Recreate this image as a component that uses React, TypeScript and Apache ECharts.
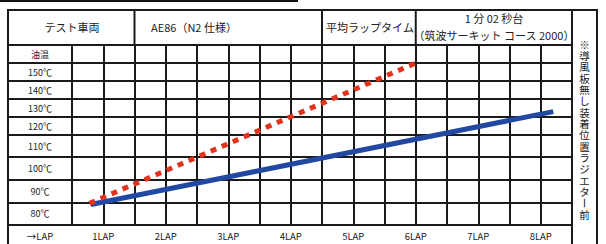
import { useEffect, useRef } from 'react';
import * as echarts from 'echarts';

// ---- data ----
const rowLabels = ['油温', '150℃', '140℃', '130℃', '120℃', '110℃', '100℃', '90℃', '80℃'];
const rowTemps = [160, 150, 140, 130, 120, 110, 100, 90, 80];
const lapLabel = '→LAP';
const blueLaps = [0.8, 8.2];
const blueTemps = [84, 128];
const redLaps = [0.78, 6.0];
const redTemps = [84.5, 155];
const headerTexts = ['テスト車両', 'AE86（N2 仕様）', '平均ラップタイム', '1 分 02 秒台', '（筑波サーキット コース 2000）'];
const noteText = '※導風板無し装着位置ラジエター前';

// ---- layout ----
const ROW_H = [18, 18, 18, 18, 18, 22, 22.7, 22.6, 22];
const edges: number[] = ROW_H.reduce((a: number[], h) => { a.push(a[a.length - 1] + h); return a; }, [0]);
const TOTAL = edges[edges.length - 1];
const centers = ROW_H.map((h, i) => edges[i] + h / 2);
const FONT = '"Noto Sans CJK JP", "Noto Sans", sans-serif';
const INK = '#1a1a1a';
const TXT = '#222';
const NOTE_STEP = 11.36;

// temperature -> position inside the (non-uniform) row table
function pos(t: number) {
  let i = rowTemps.findIndex((rt) => t >= rt - 5);
  if (i < 0) i = rowTemps.length - 1;
  return edges[i] + ((rowTemps[i] + 5 - t) / 10) * ROW_H[i];
}

function ln(x1: number, y1: number, x2: number, y2: number) {
  return { type: 'line', shape: { x1, y1, x2, y2 }, style: { stroke: INK, lineWidth: 2 }, silent: true };
}
function txt(text: string, x: number, y: number, size: number, align = 'center', rotation = 0, extra: any = {}) {
  return {
    type: 'text', x, y, rotation,
    style: { text, fill: TXT, font: `${size}px ${FONT}`, align, verticalAlign: 'middle', ...extra },
    silent: true,
  };
}

export default function App() {
  const ref = useRef<HTMLDivElement>(null);
  useEffect(() => {
    if (!ref.current) return;
    const chart = echarts.init(ref.current, undefined, { renderer: 'svg' });
    const chars = Array.from(noteText);
    const bar = chars.indexOf('ー');
    const before = chars.slice(0, bar);
    const after = chars.slice(bar + 1);
    const noteTop = 44 - NOTE_STEP / 2;
    const graphic: any[] = [
      { type: 'rect', shape: { x: 0, y: 0, width: 298, height: 2 }, style: { fill: '#111' }, silent: true },
      ln(7, 10, 598, 10),
      ln(8, 10, 8, 244),
      ln(597, 10, 597, 244),
      ln(572, 10, 572, 244),
      ln(8, 45, 572, 45),
      ln(134.5, 10, 134.5, 45),
      ln(322, 10, 322, 45),
      ln(415.75, 10, 415.75, 45),
      txt(headerTexts[0], 72, 27, 11),
      txt(headerTexts[1], 151, 27, 11, 'left'),
      txt(headerTexts[2], 370, 27, 11),
      txt(headerTexts[3], 494, 18, 11),
      txt(headerTexts[4], 494, 35, 11),
      txt(lapLabel, 40, 236, 9.5),
      {
        type: 'text', x: 584.5, y: noteTop, silent: true,
        style: { text: before.join('\n'), fill: TXT, font: `10.5px ${FONT}`, lineHeight: NOTE_STEP, align: 'center', verticalAlign: 'top' },
      },
      txt('ー', 584.5, 44 + bar * NOTE_STEP, 10.5, 'center', -Math.PI / 2),
      {
        type: 'text', x: 584.5, y: noteTop + (bar + 1) * NOTE_STEP, silent: true,
        style: { text: after.join('\n'), fill: TXT, font: `10.5px ${FONT}`, lineHeight: NOTE_STEP, align: 'center', verticalAlign: 'top' },
      },
    ];
    chart.setOption({
      animation: false,
      grid: { left: 72, top: 45, width: 500, height: TOTAL },
      xAxis: {
        type: 'value', min: 0.5, max: 8.5, interval: 0.5,
        axisLine: { show: true, lineStyle: { color: INK, width: 2 } },
        axisTick: { show: false },
        splitLine: { show: true, lineStyle: { color: INK, width: 2 } },
        axisLabel: {
          margin: 7, fontSize: 9.5, color: TXT, fontFamily: FONT,
          formatter: (v: number) => (Math.abs(v - Math.round(v)) < 1e-6 && v >= 1 ? `${Math.round(v)}LAP` : ''),
        },
      },
      yAxis: {
        type: 'value', inverse: true, min: 0, max: TOTAL,
        axisLine: { show: true, lineStyle: { color: INK, width: 2 } },
        axisTick: { show: true, customValues: edges, length: 64, lineStyle: { color: INK, width: 2 } },
        splitLine: { show: true, lineStyle: { color: INK, width: 2 } },
        axisLabel: {
          customValues: centers, margin: 32, align: 'center', fontSize: 9, color: TXT, fontFamily: FONT,
          formatter: (v: number) => {
            let best = 0;
            centers.forEach((c, i) => { if (Math.abs(c - v) < Math.abs(centers[best] - v)) best = i; });
            return rowLabels[best];
          },
        },
      },
      series: [
        {
          type: 'line', symbol: 'none', silent: true, z: 3,
          data: blueLaps.map((l, i) => [l, pos(blueTemps[i])]),
          lineStyle: { color: '#2148a3', width: 5, cap: 'butt' },
        },
        {
          type: 'line', symbol: 'none', silent: true, z: 4,
          data: redLaps.map((l, i) => [l, pos(redTemps[i])]),
          lineStyle: { color: '#e2341d', width: 5, type: [6, 6], cap: 'butt' },
        },
      ],
      graphic,
    });
    return () => chart.dispose();
  }, []);
  return <div ref={ref} style={{ position: 'fixed', left: 0, top: 0, width: 606, height: 244, background: '#fff' }} />;
}
